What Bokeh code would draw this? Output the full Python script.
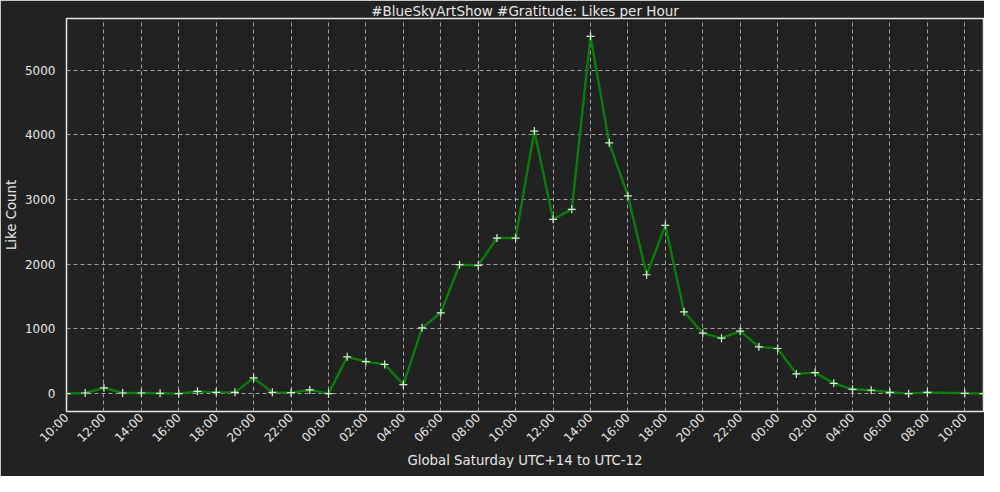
from bokeh.plotting import figure
from bokeh.models import FixedTicker, Range1d
from bokeh.embed import file_html
from bokeh.resources import INLINE

# Hours since Saturday 10:00 (UTC+14); hour 47 has no sample
hours = [0, 1, 2, 3, 4, 5, 6, 7, 8, 9, 10, 11, 12, 13, 14, 15, 16, 17, 18, 19,
         20, 21, 22, 23, 24, 25, 26, 27, 28, 29, 30, 31, 32, 33, 34, 35, 36, 37,
         38, 39, 40, 41, 42, 43, 44, 45, 46, 48, 49]
likes = [0, 10, 90, 10, 10, 5, 0, 35, 20, 20, 243, 20, 15, 57, 0, 568, 495, 452,
         139, 1017, 1249, 1992, 1981, 2404, 2404, 4056, 2693, 2848, 5520, 3875,
         3054, 1837, 2600, 1264, 934, 857, 965, 723, 697, 305, 325, 160, 67, 52,
         21, 0, 20, 5, 0]

tick_hours = list(range(0, 49, 2))
tick_labels = ["10:00", "12:00", "14:00", "16:00", "18:00", "20:00", "22:00",
               "00:00", "02:00", "04:00", "06:00", "08:00", "10:00", "12:00",
               "14:00", "16:00", "18:00", "20:00", "22:00",
               "00:00", "02:00", "04:00", "06:00", "08:00", "10:00"]

title_text = "#BlueSkyArtShow #Gratitude: Likes per Hour"
x_label = "Global Saturday UTC+14 to UTC-12"
y_label = "Like Count"

BG = "#222222"
FG = "#e6e6e6"
FONT = "DejaVu Sans"

ymax = max(likes)
pad = 0.05 * ymax

p = figure(width=984, height=476, output_backend="svg", toolbar_location=None,
           x_range=Range1d(min(hours), max(hours)),
           y_range=Range1d(-pad, ymax + pad),
           min_border_left=64, min_border_right=1, min_border_top=18,
           min_border_bottom=65)

p.background_fill_color = BG
p.border_fill_color = BG
p.outline_line_color = FG
p.outline_line_width = 1.5

p.title.text = title_text
p.title.align = "center"
p.title.text_color = FG
p.title.text_font = FONT
p.title.text_font_size = "13.5px"
p.title.text_font_style = "normal"
p.title.standoff = 0

p.line(hours, likes, line_color="#0a7d0a", line_width=2.4)
p.scatter(hours, likes, marker="cross", size=8, line_color="#d8f0d8", line_width=1.2)

p.xaxis.ticker = FixedTicker(ticks=tick_hours)
p.xaxis.major_label_overrides = {h: lab for h, lab in zip(tick_hours, tick_labels)}
p.xaxis.major_label_orientation = 0.785398
p.yaxis.ticker = FixedTicker(ticks=[0, 1000, 2000, 3000, 4000, 5000])

for ax in (p.xaxis, p.yaxis):
    ax.axis_line_color = None
    ax.major_tick_line_color = None
    ax.minor_tick_line_color = None
    ax.major_tick_out = 0
    ax.major_tick_in = 0
    ax.minor_tick_out = 0
    ax.minor_tick_in = 0
    ax.major_label_text_color = FG
    ax.major_label_text_font = FONT
    ax.major_label_text_font_size = "12px"
    ax.axis_label_text_color = FG
    ax.axis_label_text_font = FONT
    ax.axis_label_text_font_size = "13.3px"
    ax.axis_label_text_font_style = "normal"

p.xaxis.axis_label = x_label
p.yaxis.axis_label = y_label
p.xaxis.major_label_standoff = 4
p.yaxis.major_label_standoff = 11
p.xaxis.axis_label_standoff = 0
p.yaxis.axis_label_standoff = 3

for g in (p.xgrid, p.ygrid):
    g.grid_line_color = "#a0a0a0"
    g.grid_line_dash = "4 3"
    g.grid_line_width = 1

open("out.html", "w").write(file_html(p, INLINE))
